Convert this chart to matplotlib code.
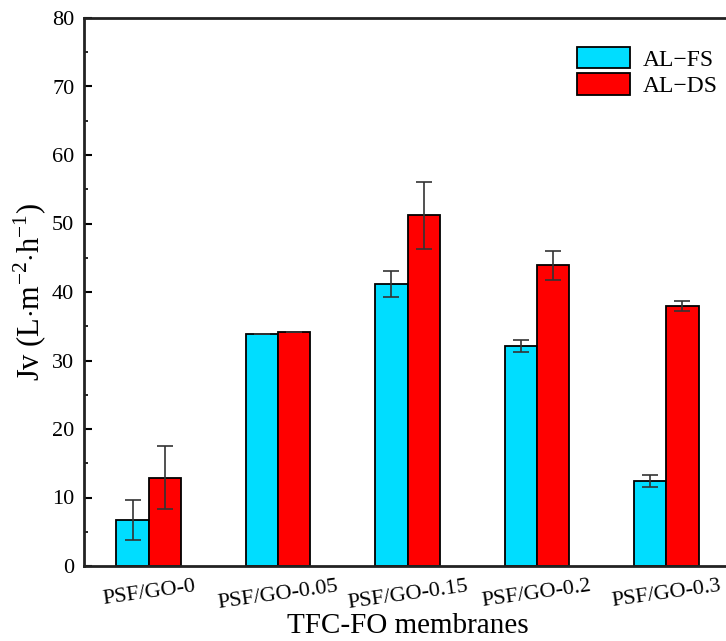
import numpy as np
import matplotlib
matplotlib.use('Agg')
import matplotlib.pyplot as plt
from matplotlib.ticker import MultipleLocator

plt.rcParams['font.family'] = ['Liberation Serif', 'DejaVu Serif']
plt.rcParams['mathtext.fontset'] = 'custom'
plt.rcParams['mathtext.rm'] = 'Liberation Serif'

membranes = ['PSF/GO-0', 'PSF/GO-0.05', 'PSF/GO-0.15', 'PSF/GO-0.2', 'PSF/GO-0.3']
al_fs = [6.7, 33.8, 41.1, 32.1, 12.4]
al_fs_err = [2.9, 0.0, 1.9, 0.9, 0.85]
al_ds = [12.9, 34.1, 51.2, 43.9, 38.0]
al_ds_err = [4.6, 0.0, 4.85, 2.1, 0.75]

fig = plt.figure(figsize=(7.26, 6.41), dpi=100)
ax = fig.add_axes([84/726, 75/641, 647/726, 548/641])

x = np.arange(len(membranes))
w = 0.25
ekw = dict(ecolor='#333333', elinewidth=1.2, capsize=6, capthick=1.2)
ax.bar(x - w/2, al_fs, w, yerr=al_fs_err, color='#00DDFF', edgecolor='black',
       linewidth=1.3, label='AL\u2212FS', error_kw=ekw)
ax.bar(x + w/2, al_ds, w, yerr=al_ds_err, color='#FF0000', edgecolor='black',
       linewidth=1.3, label='AL\u2212DS', error_kw=ekw)

ax.set_xlim(-0.5, 4.5)
ax.set_ylim(0, 80)
ax.yaxis.set_major_locator(MultipleLocator(10))
ax.yaxis.set_minor_locator(MultipleLocator(5))
ax.tick_params(axis='y', which='major', direction='in', length=6, width=1.5, labelsize=16, pad=7)
ax.tick_params(axis='y', which='minor', direction='in', length=3, width=1.2)
ax.tick_params(axis='x', length=0, labelsize=16, pad=8)
ax.set_xticks(x)
ax.set_xticklabels(membranes, rotation=8)
for s in ax.spines.values():
    s.set_linewidth(2)
    s.set_color('#222222')

ax.set_xlabel('TFC-FO membranes', fontsize=21, labelpad=0)
ax.set_ylabel(r'Jv (L$\cdot$m$^{\mathregular{-2}}$$\cdot$h$^{\mathregular{-1}}$)', fontsize=22, labelpad=2)

ax.legend(loc='upper left', bbox_to_anchor=(577/726, 1 - 47/641), bbox_transform=fig.transFigure,
          frameon=False, fontsize=17, handlelength=2.25, handleheight=1.0,
          labelspacing=0.12, borderpad=0, borderaxespad=0, handletextpad=0.55)

plt.savefig('out.png', dpi=100)
